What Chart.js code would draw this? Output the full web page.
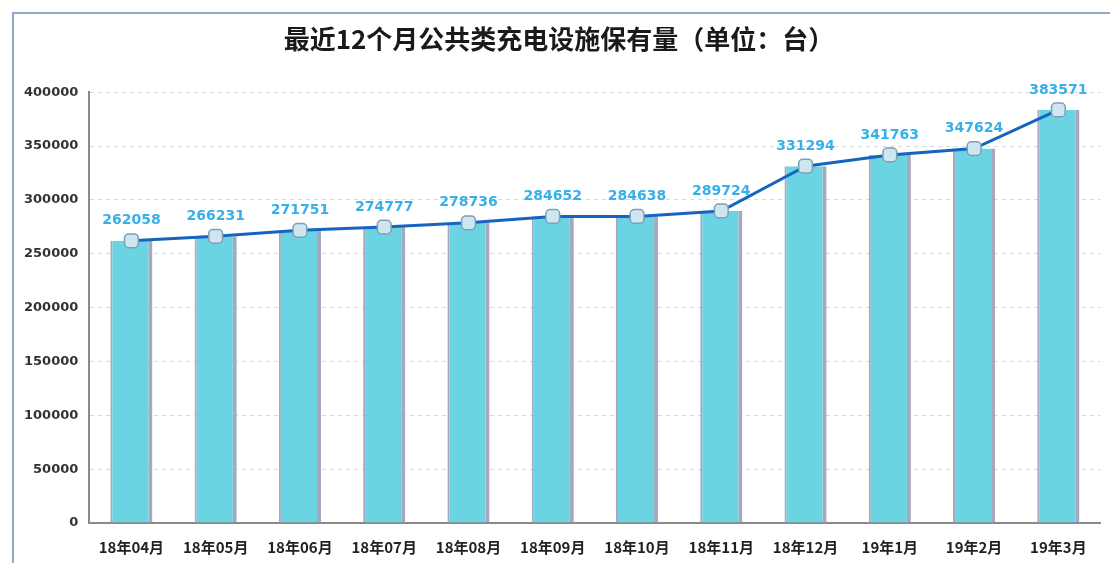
<!DOCTYPE html>
<html>
<head>
<meta charset="utf-8">
<script src="https://cdn.jsdelivr.net/npm/chart.js@4.4.0/dist/chart.umd.min.js"></script>
<style>
  html, body { margin: 0; padding: 0; background: #fff; }
  #wrap { position: relative; width: 1110px; height: 563px; }
  #frame { position: absolute; left: 12px; top: 12px; width: 1110px; height: 600px;
           border-left: 2px solid #8fa8cc; border-top: 2px solid #8fa8cc; }
  canvas { position: absolute; left: 0; top: 0; }
</style>
</head>
<body>
<div id="wrap">
  <div id="frame"></div>
  <canvas id="chart" width="1110" height="563"></canvas>
</div>
<script>
var months = ['18年04月', '18年05月', '18年06月', '18年07月', '18年08月', '18年09月',
    '18年10月', '18年11月', '18年12月', '19年1月', '19年2月', '19年3月'];
var counts = [262058, 266231, 271751, 274777, 278736, 284652,
    284638, 289724, 331294, 341763, 347624, 383571];
var yTicks = [0, 50000, 100000, 150000, 200000, 250000, 300000, 350000, 400000];

// draws the number above each point of the line
var valueLabels = {
    id: 'valueLabels',
    afterDatasetsDraw: function(chart) {
        var ctx = chart.ctx;
        var meta = chart.getDatasetMeta(0);
        ctx.save();
        ctx.font = 'bold 14px "DejaVu Sans", sans-serif';
        ctx.fillStyle = '#36b0e8';
        ctx.textAlign = 'center';
        ctx.textBaseline = 'bottom';
        meta.data.forEach(function(pt, i) {
            ctx.fillText(String(counts[i]), pt.x, pt.y - 13);
        });
        ctx.restore();
    }
};

var ctx = document.getElementById('chart').getContext('2d');
var chart = new Chart(ctx, {
    data: {
        labels: months,
        datasets: [{
            type: 'line',
            data: counts,
            borderColor: '#1565c0',
            borderWidth: 3,
            pointStyle: 'rectRounded',
            pointRadius: 8,
            pointBackgroundColor: '#cde6ef',
            pointBorderColor: '#7f9fb6',
            pointBorderWidth: 1.5,
            tension: 0,
            order: 0
        }, {
            type: 'bar',
            data: counts,
            backgroundColor: '#6ad4e2',
            borderColor: '#a6a9bd',
            borderWidth: { left: 2, right: 4, top: 0, bottom: 0 },
            borderSkipped: false,
            categoryPercentage: 1,
            barPercentage: 0.5,
            order: 1
        }]
    },
    options: {
        responsive: false,
        animation: false,
        layout: { padding: { left: 13, right: 5, top: 4, bottom: 0 } },
        plugins: {
            legend: { display: false },
            tooltip: { enabled: false },
            title: {
                display: true,
                text: '最近12个月公共类充电设施保有量（单位：台）',
                color: '#1a1a1a',
                font: { family: '"Noto Sans CJK SC", sans-serif', size: 26, weight: 'bold' },
                padding: { top: 20, bottom: 37 }
            }
        },
        scales: {
            x: {
                grid: { display: false },
                border: { color: '#8a8a8a', width: 2 },
                ticks: {
                    color: '#222',
                    font: { family: '"Noto Sans CJK SC", sans-serif', size: 15, weight: 'bold' },
                    padding: 7,
                    maxRotation: 0
                }
            },
            y: {
                min: 0,
                max: 400000,
                afterBuildTicks: function(axis) {
                    axis.ticks = yTicks.map(function(v) { return { value: v }; });
                },
                grid: { color: '#d8d8d8', lineWidth: 1, drawTicks: false },
                border: { color: '#8a8a8a', width: 2, dash: [4, 4] },
                ticks: {
                    color: '#333',
                    font: { family: '"DejaVu Sans", sans-serif', size: 13, weight: 'bold' },
                    padding: 11,
                    callback: function(v) { return String(v); }
                }
            }
        }
    },
    plugins: [valueLabels]
});
</script>
</body>
</html>
